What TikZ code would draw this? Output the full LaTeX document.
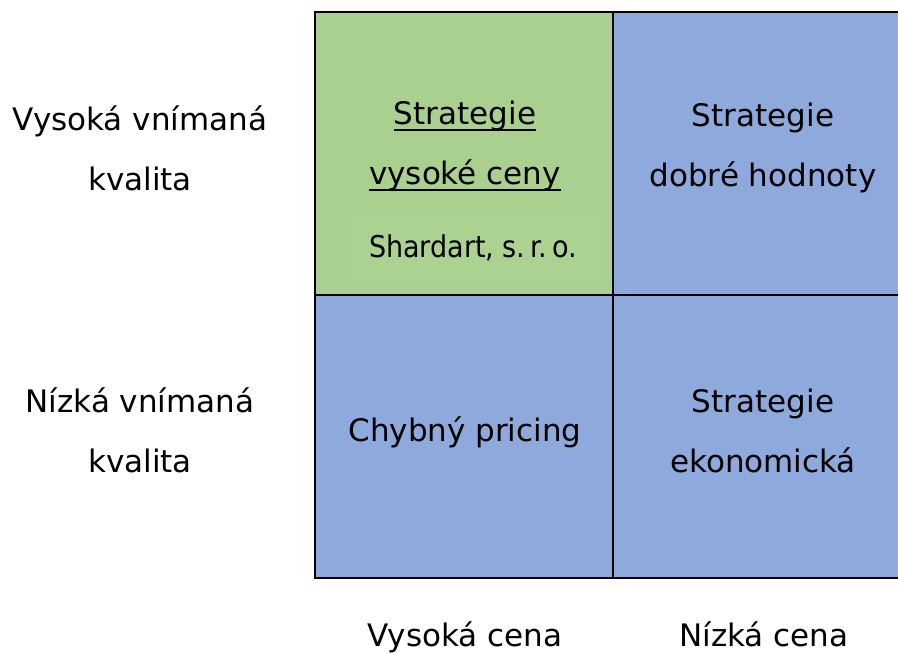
\documentclass[tikz,border=0pt]{standalone}
\usepackage{fontspec}
\setmainfont{DejaVu Sans}
\newfontfamily\firmfont{DejaVu Sans Condensed}
\usepackage{tikz}

\definecolor{cellgreen}{HTML}{A9D08E}
\definecolor{cellblue}{HTML}{8EA9DB}
\definecolor{firmgreen}{HTML}{ACD292}

% underline that sits just below the baseline
\newcommand\ulbar[1]{\setbox0\hbox{#1}\rlap{\rule[-6pt]{\wd0}{1.4pt}}\box0}

\begin{document}
\begin{tikzpicture}[x=1pt,y=-1pt,
    cell/.style={draw=black,line width=1.8pt,minimum width=298pt,minimum height=283pt,inner sep=0pt},
    celltext/.style={align=center,font=\fontsize{31}{60}\selectfont},
    axislabel/.style={align=center,font=\fontsize{31}{60}\selectfont}]
  \useasboundingbox (0,0) rectangle (898,653);

  % Quadrants
  \node[cell,fill=cellgreen] (tl) at (464,153.5) {};
  \node[cell,fill=cellblue]  (tr) at (762,153.5) {};
  \node[cell,fill=cellblue]  (bl) at (464,436.5) {};
  \node[cell,fill=cellblue]  (br) at (762,436.5) {};

  % Quadrant texts
  \node[celltext] (tltext) at (465,146) {\ulbar{Strategie}\\\ulbar{vysoké ceny}};
  \node[fill=firmgreen,minimum width=254pt,minimum height=70pt,inner sep=0pt,
        font=\firmfont\fontsize{30}{34}\selectfont] (firm) at (473,248) {Shardart, s.\,r.\,o.};
  \node[celltext] (trtext) at (763,148) {Strategie\\dobré hodnoty};
  \node[celltext] (bltext) at (465,432) {Chybný pricing};
  \node[celltext] (brtext) at (763,430.5) {Strategie\\ekonomická};

  % Axis labels
  \node[axislabel] (high) at (140,148) {Vysoká vnímaná\\kvalita};
  \node[axislabel] (low)  at (140,430.5) {Nízká vnímaná\\kvalita};
  \node[axislabel,anchor=base] (hiprice) at (465,646) {Vysoká cena};
  \node[axislabel,anchor=base] (loprice) at (764,646) {Nízká cena};
\end{tikzpicture}
\end{document}
